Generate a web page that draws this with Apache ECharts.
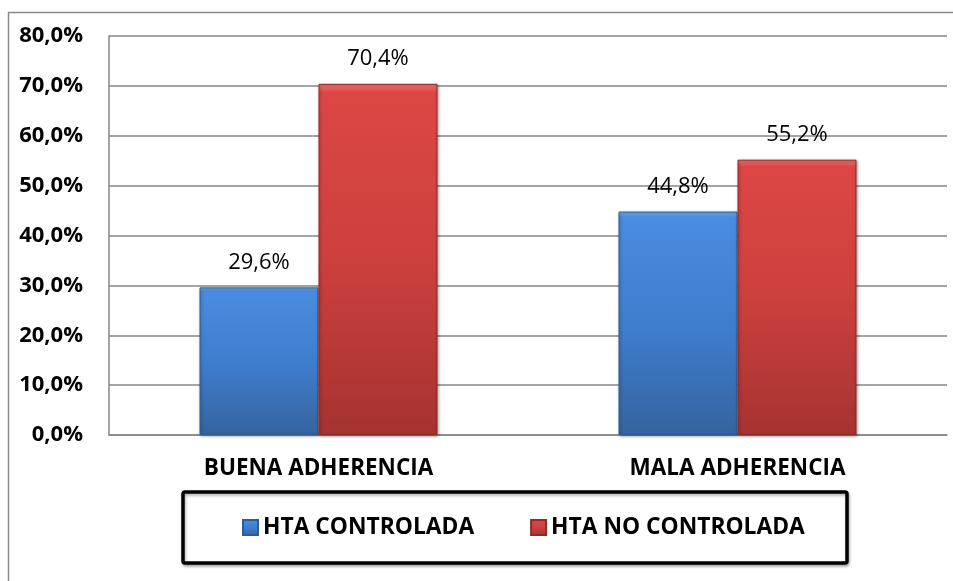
<!DOCTYPE html>
<html>
<head>
<meta charset="utf-8">
<script src="https://cdn.jsdelivr.net/npm/echarts@6/dist/echarts.min.js"></script>
<style>
html,body{margin:0;padding:0;background:#fff;}
#chart{width:953px;height:581px;}
</style>
</head>
<body>
<div id="chart"></div>
<script>
var categories = ['BUENA ADHERENCIA', 'MALA ADHERENCIA'];
var seriesNames = ['HTA CONTROLADA', 'HTA NO CONTROLADA'];
var controlada = [29.6, 44.8];
var noControlada = [70.4, 55.2];
var yTicks = [0, 10, 20, 30, 40, 50, 60, 70, 80];

var FONT = 'Open Sans';
function pct(v) { return v.toFixed(1).replace('.', ',') + '%'; }

function grad(light, top, mid, bottom) {
  return new echarts.graphic.LinearGradient(0, 0, 0, 1, [
    { offset: 0, color: light },
    { offset: 0.025, color: top },
    { offset: 0.5, color: mid },
    { offset: 1, color: bottom }
  ]);
}

var chart = echarts.init(document.getElementById('chart'), null, { renderer: 'canvas' });
chart.setOption({
  backgroundColor: '#ffffff',
  animation: false,
  graphic: [
    { type: 'rect', shape: { x: 8.5, y: 12.5, width: 1000, height: 1000 },
      style: { fill: 'none', stroke: '#8a8a8a', lineWidth: 1.5 }, z: -1 },
    { type: 'rect', shape: { x: 183, y: 492, width: 664, height: 71, r: 2 },
      style: { fill: '#ffffff', stroke: '#000000', lineWidth: 3.5,
               shadowBlur: 3, shadowColor: 'rgba(0,0,0,0.3)', shadowOffsetX: 1, shadowOffsetY: 2 }, z: 0 }
  ],
  grid: { left: 109, right: 6, top: 36, bottom: 146, containLabel: false },
  legend: {
    left: 242, top: 516, padding: 0, itemGap: 56, itemWidth: 15, itemHeight: 15,
    icon: 'rect', z: 5,
    textStyle: { fontFamily: FONT, fontWeight: 'bold', fontSize: 22.8, color: '#000' },
    data: seriesNames
  },
  xAxis: {
    type: 'category', data: categories,
    axisLine: { show: true, lineStyle: { color: '#868686', width: 1.5 } },
    axisTick: { show: false },
    axisLabel: { fontFamily: FONT, fontWeight: 'bold', fontSize: 22.5, color: '#000', margin: 22 }
  },
  yAxis: {
    type: 'value', min: yTicks[0], max: yTicks[yTicks.length - 1], interval: 10,
    axisLine: { show: true, lineStyle: { color: '#868686', width: 1.5 } },
    axisTick: { show: false },
    splitLine: { show: true, lineStyle: { color: '#868686', width: 1.5 } },
    axisLabel: { fontFamily: FONT, fontWeight: 'bold', fontSize: 22, color: '#000', margin: 26,
                 formatter: function (v) { return pct(v); } }
  },
  series: [
    {
      name: seriesNames[0], type: 'bar', data: controlada, barWidth: 119, barGap: '0%',
      itemStyle: { color: grad('#7ab3f2', '#4a8ce0', '#3f7ecf', '#35649f'),
                   borderColor: '#2f5c94', borderWidth: 1,
                   shadowBlur: 3, shadowColor: 'rgba(0,0,0,0.35)', shadowOffsetX: 1, shadowOffsetY: 1 },
      label: { show: true, position: 'top', distance: 14, fontFamily: FONT, fontSize: 22, color: '#000',
               formatter: function (p) { return pct(p.value); } }
    },
    {
      name: seriesNames[1], type: 'bar', data: noControlada, barWidth: 119,
      itemStyle: { color: grad('#f07774', '#dc4744', '#cc403d', '#a53331'),
                   borderColor: '#8e2a28', borderWidth: 1,
                   shadowBlur: 3, shadowColor: 'rgba(0,0,0,0.35)', shadowOffsetX: 1, shadowOffsetY: 1 },
      label: { show: true, position: 'top', distance: 14, fontFamily: FONT, fontSize: 22, color: '#000',
               formatter: function (p) { return pct(p.value); } }
    }
  ]
});
</script>
</body>
</html>
